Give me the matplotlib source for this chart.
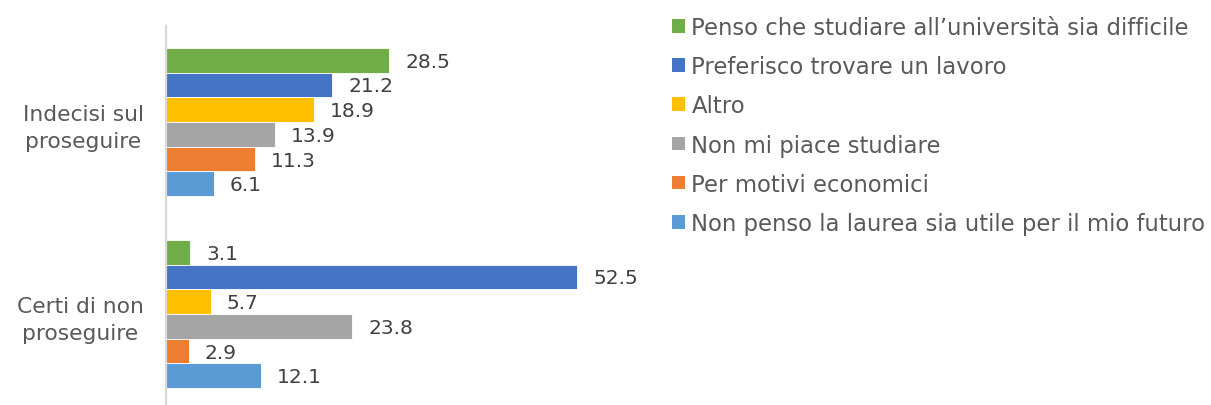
import matplotlib
matplotlib.use("Agg")
import matplotlib.pyplot as plt
import numpy as np

categories = ["Indecisi sul\nproseguire", "Certi di non\nproseguire"]
series_names = [
    "Penso che studiare all\u2019universit\u00e0 sia difficile",
    "Preferisco trovare un lavoro",
    "Altro",
    "Non mi piace studiare",
    "Per motivi economici",
    "Non penso la laurea sia utile per il mio futuro",
]
values = [
    [28.5, 3.1],
    [21.2, 52.5],
    [18.9, 5.7],
    [13.9, 23.8],
    [11.3, 2.9],
    [6.1, 12.1],
]
colors = ["#70AD47", "#4472C4", "#FFC000", "#A5A5A5", "#ED7D31", "#5B9BD5"]

W, H = 1211, 406
plt.rcParams['font.family'] = ['DejaVu Sans']
fig = plt.figure(figsize=(W / 100, H / 100), dpi=100)
ax = fig.add_axes([166 / W, -5 / H, 470 / W, 384 / H])

n = len(series_names)
h = 0.1285
y = np.arange(len(categories))
fs = 14.5
for j, (name, vals, c) in enumerate(zip(series_names, values, colors)):
    pos = y + (j - (n - 1) / 2) * h
    ax.barh(pos, vals, height=h, color=c, edgecolor="white", linewidth=0.6, label=name)
    for p, v in zip(pos, vals):
        ax.annotate(f"{v:.1f}", (v, p), xytext=(16, -1), textcoords="offset pixels",
                    ha="left", va="center", fontsize=fs, color="#404040", annotation_clip=False)

ax.set_xlim(0, 60)
ax.set_ylim(1.5, -0.5)
ax.set_yticks(y)
ax.set_yticklabels(categories, fontsize=15.7, color="#595959", linespacing=1.42, multialignment="center")
ax.tick_params(axis="y", length=0, pad=16)
ax.set_xticks([])
for s in ["top", "right", "bottom"]:
    ax.spines[s].set_visible(False)
ax.spines["left"].set_color("#D9D9D9")
ax.spines["left"].set_linewidth(1.6)

leg = fig.legend(loc="upper left", bbox_to_anchor=(672 / W, 1 - 17 / H), frameon=False,
                 fontsize=16.4, labelcolor="#595959", handlelength=0.55, handleheight=0.55,
                 handletextpad=0.3, labelspacing=0.71, borderaxespad=0, borderpad=0)
for t in leg.get_patches():
    t.set_linewidth(0)

fig.savefig("out.png", dpi=100)
